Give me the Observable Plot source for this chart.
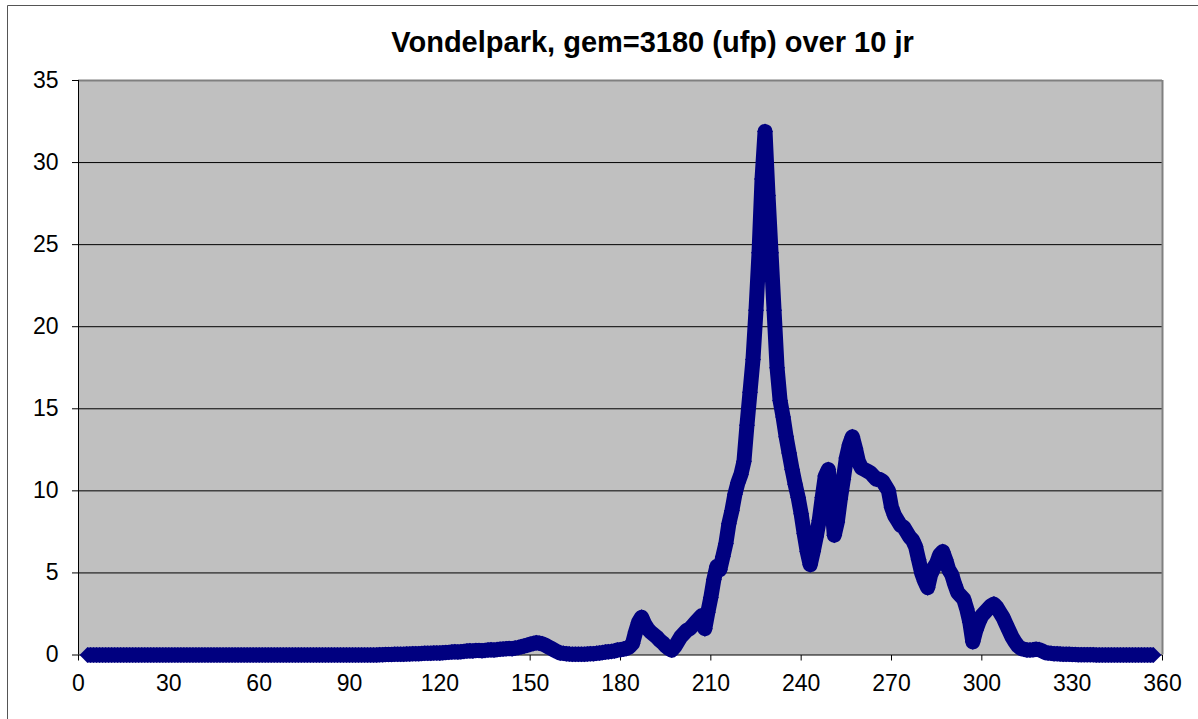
<!DOCTYPE html>
<html>
<head>
<meta charset="utf-8">
<script src="https://cdn.jsdelivr.net/npm/d3@7"></script>
<script src="https://cdn.jsdelivr.net/npm/@observablehq/plot@0.6"></script>
<style>
  body { margin: 0; background: #fff; }
  #chart { width: 1198px; height: 719px; }
</style>
</head>
<body>
<div id="chart"></div>
<script>
const title = "Vondelpark, gem=3180 (ufp) over 10 jr";
const xTicks = [0, 30, 60, 90, 120, 150, 180, 210, 240, 270, 300, 330, 360];
const yTicks = [0, 5, 10, 15, 20, 25, 30, 35];
const gridLevels = [5, 10, 15, 20, 25, 30];
const startDirection = 3; // first direction (degrees); one value per degree
const values = [
  0, 0, 0, 0, 0, 0, 0,                                   // 3-9
  0, 0, 0, 0, 0, 0, 0, 0, 0, 0,                          // 10-19
  0, 0, 0, 0, 0, 0, 0, 0, 0, 0,                          // 20-29
  0, 0, 0, 0, 0, 0, 0, 0, 0, 0,                          // 30-39
  0, 0, 0, 0, 0, 0, 0, 0, 0, 0,                          // 40-49
  0, 0, 0, 0, 0, 0, 0, 0, 0, 0,                          // 50-59
  0, 0, 0, 0, 0, 0, 0, 0, 0, 0,                          // 60-69
  0, 0, 0, 0, 0, 0, 0, 0, 0, 0,                          // 70-79
  0, 0, 0, 0, 0, 0, 0, 0, 0, 0,                          // 80-89
  0, 0, 0, 0, 0, 0, 0, 0, 0, 0,                          // 90-99
  0.02, 0.02, 0.03, 0.03, 0.03, 0.04, 0.04, 0.05, 0.05, 0.06, // 100-109
  0.06, 0.07, 0.08, 0.08, 0.09, 0.1, 0.1, 0.11, 0.12, 0.12,   // 110-119
  0.12, 0.14, 0.15, 0.16, 0.18, 0.2, 0.18, 0.2, 0.22, 0.24,   // 120-129
  0.26, 0.25, 0.27, 0.28, 0.26, 0.28, 0.3, 0.32, 0.3, 0.33,   // 130-139
  0.35, 0.36, 0.38, 0.4, 0.38, 0.42, 0.45, 0.5, 0.55, 0.6,    // 140-149
  0.65, 0.7, 0.75, 0.72, 0.68, 0.6, 0.5, 0.4, 0.3, 0.2,       // 150-159
  0.12, 0.1, 0.08, 0.06, 0.05, 0.05, 0.04, 0.05, 0.05, 0.06,  // 160-169
  0.07, 0.08, 0.1, 0.12, 0.15, 0.18, 0.2, 0.22, 0.25, 0.3,    // 170-179
  0.32, 0.36, 0.4, 0.5, 0.7, 1.4, 2.0, 2.3, 1.9, 1.6,         // 180-189
  1.4, 1.25, 1.1, 0.9, 0.75, 0.55, 0.4, 0.3, 0.5, 0.8,        // 190-199
  1.1, 1.3, 1.5, 1.6, 1.8, 2.0, 2.2, 2.4, 1.6, 2.6,           // 200-209
  3.5, 4.6, 5.4, 5.2, 6.0, 6.8, 8.0, 8.8, 9.8, 10.5,          // 210-219
  11.0, 11.8, 14.0, 16.0, 18.0, 21.0, 24.5, 29.0, 31.9, 28.0, // 220-229
  24.5, 21.0, 17.5, 15.5, 14.5, 13.3, 12.3, 11.3, 10.4, 9.6,  // 230-239
  8.6, 7.4, 6.3, 5.5, 6.3, 7.2, 8.2, 9.6, 10.9, 11.3,         // 240-249
  9.6, 7.3, 8.1, 9.5, 10.7, 12.0, 12.8, 13.3, 12.6, 11.8,     // 250-259
  11.4, 11.3, 11.2, 11.1, 10.9, 10.7, 10.7, 10.6, 10.3, 10.0, // 260-269
  9.0, 8.5, 8.2, 7.9, 7.8, 7.5, 7.2, 7.0, 6.6, 5.8,           // 270-279
  5.0, 4.5, 4.1, 4.9, 5.3, 5.6, 6.1, 6.3, 5.8, 5.2,           // 280-289
  4.9, 4.3, 3.8, 3.6, 3.4, 2.8, 2.0, 0.8, 1.5, 2.0,           // 290-299
  2.4, 2.6, 2.8, 3.0, 3.1, 2.9, 2.6, 2.3, 1.9, 1.5,           // 300-309
  1.1, 0.8, 0.55, 0.4, 0.35, 0.3, 0.3, 0.32, 0.35, 0.33,      // 310-319
  0.25, 0.15, 0.12, 0.1, 0.08, 0.07, 0.06, 0.05, 0.05, 0.04,  // 320-329
  0.03, 0.03, 0.02, 0.02, 0.02, 0.01, 0.01, 0.01, 0, 0,       // 330-339
  0, 0, 0, 0, 0, 0, 0, 0, 0, 0,                               // 340-349
  0, 0, 0, 0, 0, 0, 0, 0                                      // 350-357
];

const points = values.map((v, i) => ({dir: startDirection + i, value: v}));
const navy = "#000080";

const plot = Plot.plot({
  width: 1198,
  height: 719,
  marginLeft: 78,
  marginRight: 36,
  marginTop: 80,
  marginBottom: 64.5,
  style: {
    fontFamily: "'Liberation Sans', Arial, sans-serif",
    fontSize: "23px",
    color: "#000",
    background: "#fff",
    overflow: "visible"
  },
  x: {domain: [0, 360], ticks: xTicks, tickSize: 6, tickPadding: 14, label: null},
  y: {domain: [0, 35], ticks: yTicks, tickSize: 6, tickPadding: 14, label: null},
  marks: [
    Plot.frame({fill: "#c0c0c0", stroke: null}),
    Plot.ruleY(gridLevels, {stroke: "#000", strokeWidth: 1}),
    Plot.ruleY([35], {stroke: "#808080", strokeWidth: 2}),
    Plot.ruleX([360], {stroke: "#808080", strokeWidth: 2}),
    Plot.ruleX([0], {stroke: "#000", strokeWidth: 1}),
    Plot.ruleY([0], {stroke: "#000", strokeWidth: 1}),
    // dense marker band: a thick stroke through the markers keeps it continuous
    Plot.line(points, {x: "dir", y: "value", stroke: navy, strokeWidth: 15, strokeLinejoin: "round", strokeLinecap: "butt"}),
    Plot.dot(points, {x: "dir", y: "value", symbol: d3.symbolDiamond2, r: 7.2, fill: navy, stroke: "none"}),
    Plot.text([title], {frameAnchor: "top", dx: 32, dy: -49, fontSize: 29, fontWeight: "bold"})
  ]
});

// outer chart border (Excel chart area)
d3.select(plot).append("path")
  .attr("d", "M7.5,719V5.5H1198")
  .attr("fill", "none")
  .attr("stroke", "#555")
  .attr("stroke-width", 1);

document.getElementById("chart").appendChild(plot);
</script>
</body>
</html>
